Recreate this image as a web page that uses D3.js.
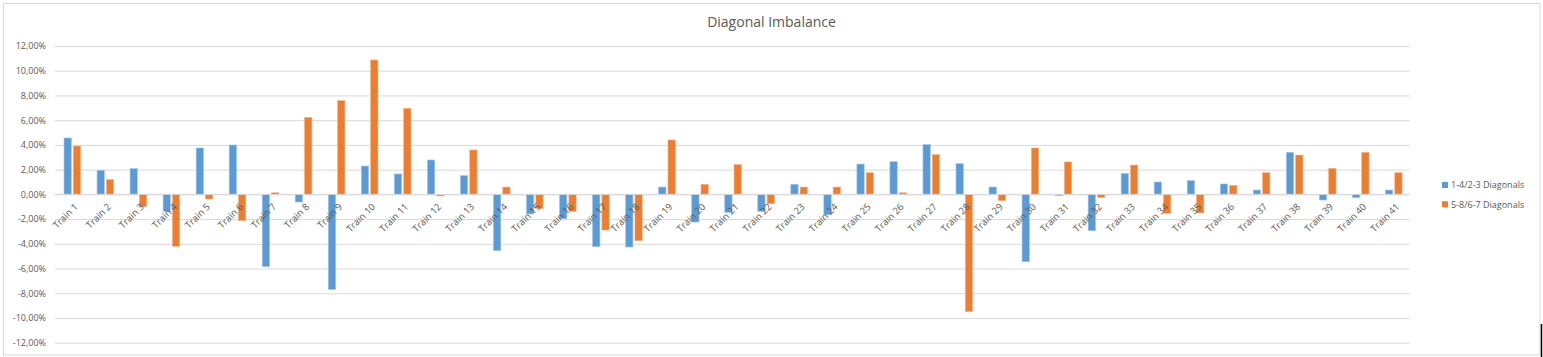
<!DOCTYPE html>
<html><head><meta charset="utf-8">
<script src="https://cdn.jsdelivr.net/npm/d3@7/dist/d3.min.js"></script>
<style>body{margin:0;background:#fff;}svg{display:block;font-family:"Open Sans",sans-serif;}</style>
</head><body>
<svg id="c" width="1543" height="357"></svg>
<script>
const categories = d3.range(1, 42).map(i => "Train " + i);
const seriesNames = ["1-4/2-3 Diagonals", "5-8/6-7 Diagonals"];
const diag14 = [4.56, 1.94, 2.08, -1.38, 3.75, 3.99, -5.85, -0.62, -7.69, 2.29,
  1.65, 2.78, 1.51, -4.56, -1.59, -1.97, -4.23, -4.26, 0.59, -2.24,
  -1.46, -1.38, 0.81, -1.65, 2.45, 2.64, 4.02, 2.48, 0.59, -5.45,
  -0.10, -2.94, 1.70, 1.00, 1.11, 0.84, 0.35, 3.40, -0.46, -0.27, 0.35];
const diag58 = [3.91, 1.19, -1.00, -4.20, -0.38, -2.13, 0.13, 6.23, 7.58, 10.87,
  6.96, -0.13, 3.59, 0.59, -1.16, -1.38, -2.89, -3.75, 4.40, 0.81,
  2.40, -0.76, 0.59, 0.59, 1.75, 0.13, 3.21, -9.49, -0.51, 3.75,
  2.62, -0.27, 2.37, -1.54, -1.51, 0.73, 1.75, 3.18, 2.10, 3.40, 1.75];
const yTicks = [-12, -10, -8, -6, -4, -2, 0, 2, 4, 6, 8, 10, 12];
const colors = ["#5B9BD5", "#ED7D31"];
const title = "Diagonal Imbalance";

const svg = d3.select("#c");
const L = 55, R = 1409.5, T = 46, B = 342.7;

svg.append("rect").attr("x", 3.5).attr("y", 3.5).attr("width", 1536.5).attr("height", 351.5)
  .attr("fill", "#fff").attr("stroke", "#D9D9D9");

const x0 = d3.scaleBand().domain(categories).range([L, R]).paddingInner(0).paddingOuter(0);
const x1 = d3.scaleBand().domain(seriesNames)
  .range([x0.bandwidth() / 2 - 8.3 + 0.8, x0.bandwidth() / 2 + 8.3 + 0.8]).paddingInner(0.215);
const y = d3.scaleLinear().domain([-12, 12]).range([B, T]);

const fmt = v => (v < 0 ? "-" : "") + Math.abs(v).toFixed(2).replace(".", ",") + "%";

// gridlines + y labels
const yAxis = d3.axisLeft(y).tickValues(yTicks).tickSize(-(R - L)).tickFormat(fmt).tickPadding(9);
const ga = svg.append("g").attr("transform", `translate(${L},0)`).call(yAxis);
ga.select(".domain").remove();
ga.selectAll(".tick line").attr("stroke", "#D9D9D9").attr("stroke-width", 1);
ga.selectAll(".tick text").attr("fill", "#595959").attr("font-size", "9px")
  .attr("font-family", "'Open Sans', sans-serif");

// bars
const data = categories.map((c, i) => ({c, vals: [diag14[i], diag58[i]]}));
const grp = svg.append("g").selectAll("g").data(data).join("g")
  .attr("transform", d => `translate(${x0(d.c)},0)`);
grp.selectAll("rect").data(d => d.vals.map((v, j) => ({v, s: seriesNames[j], j})))
  .join("rect")
  .attr("x", d => x1(d.s))
  .attr("width", x1.bandwidth())
  .attr("y", d => Math.min(y(d.v), y(0)))
  .attr("height", d => Math.abs(y(d.v) - y(0)))
  .attr("fill", d => colors[d.j])
  .attr("stroke", d => d.j === 0 ? "#9DC3E6" : "#F4B183").attr("stroke-width", 0.6);

// zero line
svg.append("line").attr("x1", L).attr("x2", R).attr("y1", y(0)).attr("y2", y(0))
  .attr("stroke", "#D9D9D9");

// category labels
const xAxis = d3.axisBottom(x0).tickSize(0).tickPadding(0);
const gx = svg.append("g").attr("transform", `translate(0,${y(0)})`).call(xAxis);
gx.select(".domain").remove();
gx.selectAll(".tick text").attr("fill", "#595959").attr("font-size", "9.5px")
  .attr("font-family", "'Open Sans', sans-serif")
  .attr("text-anchor", "end").attr("dy", 0).attr("y", 0)
  .attr("transform", "translate(7,13) rotate(-45)");

// title
svg.append("text").attr("x", 771.5).attr("y", 27).attr("text-anchor", "middle")
  .attr("fill", "#595959").attr("font-size", "14px").text(title);

// legend
const lg = svg.append("g").attr("transform", "translate(1442,0)");
seriesNames.forEach((s, i) => {
  const cy = 185 + i * 19.3;
  lg.append("rect").attr("x", 0).attr("y", cy - 3).attr("width", 6).attr("height", 6).attr("fill", colors[i]);
  lg.append("text").attr("x", 9).attr("y", cy + 3.2).attr("fill", "#595959").attr("font-size", "9px").text(s);
});

// stray black edge line
svg.append("line").attr("x1", 1541.5).attr("x2", 1541.5).attr("y1", 324).attr("y2", 357)
  .attr("stroke", "#000").attr("stroke-width", 1.5);
</script>
</body></html>
